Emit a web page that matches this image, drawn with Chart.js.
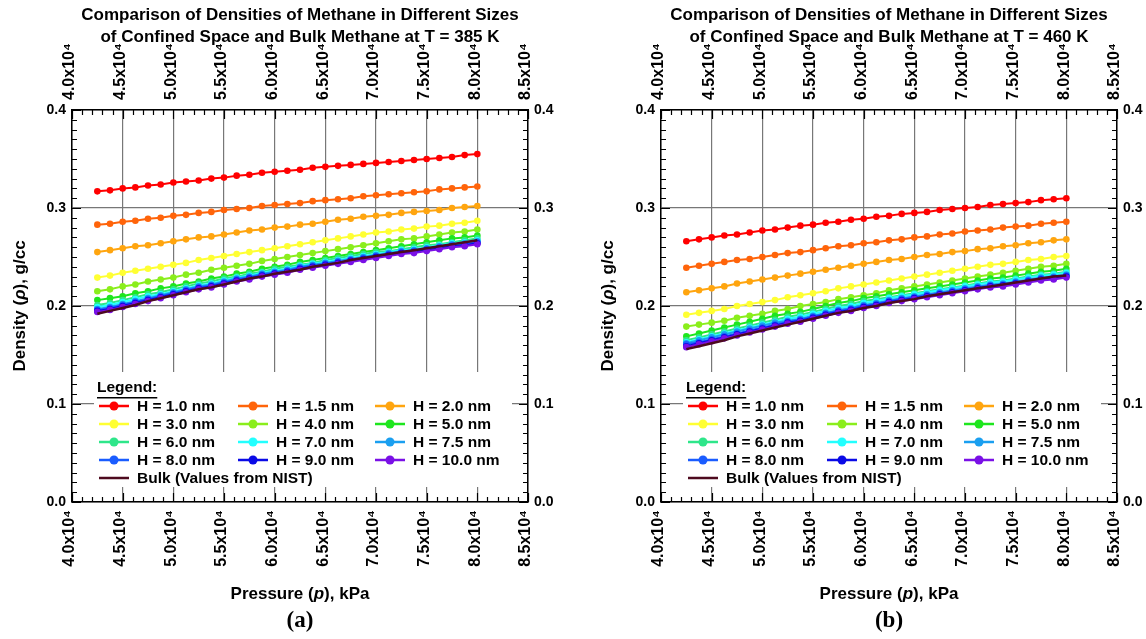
<!DOCTYPE html>
<html>
<head>
<meta charset="utf-8">
<script src="https://cdn.jsdelivr.net/npm/chart.js@4.4.1/dist/chart.umd.min.js"></script>
<style>
  html, body { margin: 0; padding: 0; background: #fff; }
  #wrap { position: relative; width: 1146px; height: 639px; }
  .panel { position: absolute; top: 0; width: 573px; height: 639px; }
</style>
</head>
<body>
<div id="wrap">
  <div class="panel" style="left:0"><canvas id="chartA" width="573" height="639"></canvas></div>
  <div class="panel" style="left:573px"><canvas id="chartB" width="573" height="639"></canvas></div>
</div>
<script>
// ---- data ----
const pressureKPa = [42500, 43750, 45000, 46250, 47500, 48750, 50000, 51250, 52500, 53750,
  55000, 56250, 57500, 58750, 60000, 61250, 62500, 63750, 65000, 66250,
  67500, 68750, 70000, 71250, 72500, 73750, 75000, 76250, 77500, 78750, 80000];

const poreLabels = ['H = 1.0 nm', 'H = 1.5 nm', 'H = 2.0 nm', 'H = 3.0 nm', 'H = 4.0 nm', 'H = 5.0 nm',
  'H = 6.0 nm', 'H = 7.0 nm', 'H = 7.5 nm', 'H = 8.0 nm', 'H = 9.0 nm', 'H = 10.0 nm'];
const poreColors = ['#ff0000', '#ff640a', '#ffa50f', '#ffff33', '#8aee1c', '#1ee61e',
  '#2ee68a', '#22ffff', '#1a9ff0', '#1a5cff', '#0a0ae6', '#7a10e6'];
const bulkLabel = 'Bulk (Values from NIST)';
const bulkColor = '#4d0a1f';

const xTickValues = [40000, 45000, 50000, 55000, 60000, 65000, 70000, 75000, 80000, 85000];
const yTickValues = [0.0, 0.1, 0.2, 0.3, 0.4];

// T = 385 K
const d385_H10 = [0.317, 0.318, 0.320, 0.321, 0.323, 0.324, 0.326, 0.327, 0.328, 0.330, 0.331, 0.333, 0.334, 0.336, 0.337, 0.338, 0.339, 0.341, 0.342, 0.343, 0.344, 0.345, 0.346, 0.347, 0.348, 0.349, 0.350, 0.351, 0.352, 0.354, 0.355];
const d385_H15 = [0.283, 0.284, 0.286, 0.287, 0.289, 0.290, 0.292, 0.293, 0.295, 0.296, 0.298, 0.299, 0.300, 0.302, 0.303, 0.304, 0.305, 0.307, 0.308, 0.309, 0.310, 0.312, 0.313, 0.314, 0.315, 0.316, 0.317, 0.319, 0.320, 0.321, 0.322];
const d385_H20 = [0.255, 0.257, 0.259, 0.261, 0.262, 0.264, 0.266, 0.268, 0.270, 0.271, 0.273, 0.275, 0.277, 0.278, 0.280, 0.281, 0.283, 0.284, 0.286, 0.288, 0.289, 0.291, 0.292, 0.293, 0.295, 0.296, 0.297, 0.298, 0.300, 0.301, 0.302];
const d385_H30 = [0.229, 0.231, 0.234, 0.236, 0.238, 0.240, 0.242, 0.244, 0.247, 0.249, 0.251, 0.253, 0.255, 0.257, 0.259, 0.261, 0.263, 0.265, 0.267, 0.269, 0.271, 0.273, 0.275, 0.276, 0.278, 0.279, 0.281, 0.282, 0.284, 0.285, 0.287];
const d385_H40 = [0.215, 0.217, 0.220, 0.222, 0.225, 0.227, 0.229, 0.232, 0.234, 0.237, 0.239, 0.241, 0.243, 0.246, 0.248, 0.250, 0.252, 0.254, 0.256, 0.258, 0.260, 0.262, 0.264, 0.266, 0.268, 0.269, 0.271, 0.273, 0.275, 0.276, 0.278];
const d385_H50 = [0.206, 0.208, 0.210, 0.213, 0.215, 0.218, 0.220, 0.223, 0.225, 0.228, 0.230, 0.233, 0.235, 0.238, 0.240, 0.242, 0.245, 0.247, 0.249, 0.251, 0.253, 0.255, 0.257, 0.259, 0.261, 0.263, 0.265, 0.267, 0.269, 0.270, 0.272];
const d385_H60 = [0.201, 0.203, 0.206, 0.209, 0.212, 0.214, 0.217, 0.220, 0.223, 0.225, 0.228, 0.230, 0.233, 0.235, 0.238, 0.240, 0.242, 0.244, 0.247, 0.249, 0.251, 0.253, 0.255, 0.256, 0.258, 0.260, 0.262, 0.263, 0.265, 0.267, 0.269];
const d385_H70 = [0.199, 0.201, 0.204, 0.207, 0.210, 0.212, 0.215, 0.218, 0.221, 0.223, 0.226, 0.229, 0.231, 0.234, 0.236, 0.238, 0.241, 0.243, 0.245, 0.247, 0.249, 0.251, 0.253, 0.255, 0.257, 0.258, 0.260, 0.262, 0.264, 0.265, 0.267];
const d385_H75 = [0.197, 0.199, 0.202, 0.205, 0.208, 0.211, 0.214, 0.217, 0.220, 0.222, 0.225, 0.228, 0.230, 0.233, 0.235, 0.237, 0.240, 0.242, 0.244, 0.246, 0.248, 0.250, 0.252, 0.254, 0.256, 0.257, 0.259, 0.261, 0.263, 0.264, 0.266];
const d385_H80 = [0.196, 0.198, 0.201, 0.204, 0.207, 0.210, 0.213, 0.216, 0.219, 0.221, 0.224, 0.227, 0.229, 0.232, 0.234, 0.236, 0.239, 0.241, 0.243, 0.245, 0.247, 0.249, 0.251, 0.253, 0.255, 0.256, 0.258, 0.260, 0.262, 0.263, 0.265];
const d385_H90 = [0.195, 0.197, 0.200, 0.203, 0.206, 0.209, 0.212, 0.215, 0.218, 0.220, 0.223, 0.226, 0.228, 0.231, 0.233, 0.235, 0.238, 0.240, 0.242, 0.244, 0.246, 0.248, 0.250, 0.252, 0.254, 0.255, 0.257, 0.259, 0.261, 0.262, 0.264];
const d385_H100 = [0.194, 0.196, 0.199, 0.202, 0.205, 0.208, 0.211, 0.214, 0.217, 0.219, 0.222, 0.225, 0.227, 0.230, 0.232, 0.234, 0.237, 0.239, 0.241, 0.243, 0.245, 0.247, 0.249, 0.251, 0.253, 0.254, 0.256, 0.258, 0.260, 0.261, 0.263];
const d385_bulk = [0.192, 0.195, 0.198, 0.201, 0.205, 0.208, 0.211, 0.214, 0.217, 0.219, 0.222, 0.225, 0.228, 0.230, 0.233, 0.235, 0.237, 0.240, 0.242, 0.244, 0.247, 0.249, 0.251, 0.253, 0.255, 0.257, 0.259, 0.261, 0.263, 0.265, 0.267];

// T = 460 K
const d460_H10 = [0.266, 0.268, 0.270, 0.272, 0.273, 0.275, 0.277, 0.278, 0.280, 0.282, 0.283, 0.285, 0.286, 0.288, 0.289, 0.291, 0.292, 0.294, 0.295, 0.296, 0.298, 0.299, 0.300, 0.301, 0.303, 0.304, 0.305, 0.306, 0.308, 0.309, 0.310];
const d460_H15 = [0.239, 0.241, 0.243, 0.245, 0.247, 0.248, 0.250, 0.252, 0.254, 0.255, 0.257, 0.259, 0.261, 0.262, 0.264, 0.265, 0.267, 0.268, 0.270, 0.271, 0.273, 0.274, 0.276, 0.277, 0.278, 0.280, 0.281, 0.282, 0.284, 0.285, 0.286];
const d460_H20 = [0.214, 0.216, 0.218, 0.220, 0.223, 0.225, 0.227, 0.229, 0.231, 0.233, 0.235, 0.237, 0.239, 0.241, 0.243, 0.245, 0.247, 0.248, 0.250, 0.252, 0.253, 0.255, 0.256, 0.258, 0.259, 0.261, 0.262, 0.264, 0.265, 0.267, 0.268];
const d460_H30 = [0.191, 0.193, 0.195, 0.197, 0.200, 0.202, 0.204, 0.206, 0.209, 0.211, 0.213, 0.215, 0.218, 0.220, 0.222, 0.224, 0.226, 0.228, 0.230, 0.232, 0.234, 0.236, 0.238, 0.240, 0.242, 0.243, 0.245, 0.247, 0.248, 0.250, 0.251];
const d460_H40 = [0.179, 0.181, 0.183, 0.185, 0.188, 0.190, 0.192, 0.195, 0.197, 0.200, 0.202, 0.204, 0.207, 0.209, 0.211, 0.213, 0.216, 0.218, 0.220, 0.222, 0.224, 0.226, 0.228, 0.230, 0.232, 0.234, 0.236, 0.238, 0.240, 0.241, 0.243];
const d460_H50 = [0.169, 0.172, 0.175, 0.178, 0.181, 0.184, 0.187, 0.190, 0.192, 0.194, 0.197, 0.200, 0.203, 0.205, 0.208, 0.210, 0.212, 0.214, 0.216, 0.218, 0.220, 0.222, 0.224, 0.226, 0.228, 0.229, 0.231, 0.233, 0.235, 0.236, 0.238];
const d460_H60 = [0.165, 0.168, 0.171, 0.174, 0.177, 0.180, 0.183, 0.186, 0.189, 0.191, 0.194, 0.197, 0.200, 0.202, 0.205, 0.207, 0.209, 0.211, 0.213, 0.215, 0.217, 0.219, 0.221, 0.223, 0.225, 0.226, 0.228, 0.230, 0.232, 0.233, 0.235];
const d460_H70 = [0.163, 0.166, 0.169, 0.172, 0.175, 0.178, 0.181, 0.184, 0.187, 0.189, 0.192, 0.195, 0.198, 0.200, 0.203, 0.205, 0.208, 0.210, 0.212, 0.214, 0.216, 0.218, 0.220, 0.222, 0.224, 0.225, 0.227, 0.229, 0.231, 0.232, 0.234];
const d460_H75 = [0.162, 0.165, 0.168, 0.171, 0.174, 0.177, 0.180, 0.183, 0.185, 0.187, 0.190, 0.193, 0.196, 0.198, 0.201, 0.203, 0.206, 0.208, 0.210, 0.212, 0.214, 0.216, 0.218, 0.220, 0.222, 0.223, 0.225, 0.227, 0.229, 0.230, 0.232];
const d460_H80 = [0.161, 0.163, 0.166, 0.169, 0.172, 0.175, 0.178, 0.181, 0.184, 0.186, 0.189, 0.192, 0.195, 0.197, 0.200, 0.202, 0.205, 0.207, 0.209, 0.211, 0.213, 0.215, 0.217, 0.219, 0.221, 0.222, 0.224, 0.226, 0.228, 0.229, 0.231];
const d460_H90 = [0.159, 0.162, 0.165, 0.168, 0.171, 0.174, 0.177, 0.180, 0.183, 0.185, 0.188, 0.191, 0.194, 0.196, 0.199, 0.201, 0.204, 0.206, 0.208, 0.210, 0.212, 0.214, 0.216, 0.218, 0.220, 0.221, 0.223, 0.225, 0.227, 0.228, 0.230];
const d460_H100 = [0.158, 0.161, 0.164, 0.167, 0.170, 0.173, 0.176, 0.179, 0.182, 0.184, 0.187, 0.190, 0.193, 0.195, 0.198, 0.200, 0.203, 0.205, 0.207, 0.209, 0.211, 0.213, 0.215, 0.217, 0.219, 0.220, 0.222, 0.224, 0.226, 0.227, 0.229];
const d460_bulk = [0.156, 0.159, 0.162, 0.165, 0.169, 0.172, 0.175, 0.178, 0.181, 0.184, 0.187, 0.190, 0.193, 0.195, 0.198, 0.200, 0.203, 0.205, 0.207, 0.210, 0.212, 0.214, 0.216, 0.218, 0.220, 0.222, 0.224, 0.226, 0.228, 0.230, 0.231];

const series385 = [d385_H10, d385_H15, d385_H20, d385_H30, d385_H40, d385_H50, d385_H60, d385_H70, d385_H75, d385_H80, d385_H90, d385_H100];
const series460 = [d460_H10, d460_H15, d460_H20, d460_H30, d460_H40, d460_H50, d460_H60, d460_H70, d460_H75, d460_H80, d460_H90, d460_H100];

// ---- drawing helpers ----
const FONT = '"Liberation Sans", Arial, Helvetica, sans-serif';
const SERIF = '"Liberation Serif", "Times New Roman", serif';

// draw text made of plain / italic pieces, centred on (x, y)
function drawMixed(ctx, parts, x, y, size) {
  const fontOf = (it) => (it ? 'italic ' : '') + 'bold ' + size + 'px ' + FONT;
  let total = 0;
  parts.forEach(p => { ctx.font = fontOf(p[1]); total += ctx.measureText(p[0]).width; });
  let cx = x - total / 2;
  ctx.textAlign = 'left';
  parts.forEach(p => {
    ctx.font = fontOf(p[1]);
    ctx.fillText(p[0], cx, y);
    cx += ctx.measureText(p[0]).width;
  });
}

const frame = {
  id: 'frame',
  beforeDatasetsDraw(chart) {
    // white legend panel that hides the grid behind it
    const { ctx, chartArea: ca } = chart;
    ctx.save();
    ctx.fillStyle = '#fff';
    ctx.fillRect(ca.left + 22, ca.top + 262, 418, 115);
    ctx.restore();
  },
  afterDatasetsDraw(chart, args, opts) {
    const { ctx, chartArea: ca, scales } = chart;
    ctx.save();
    // inward minor / major ticks
    ctx.strokeStyle = '#000';
    ctx.lineWidth = 1.2;
    ctx.beginPath();
    for (let v = 40000; v <= 85000; v += 1000) {
      const x = Math.round(scales.x.getPixelForValue(v)) + 0.5;
      const len = v % 5000 === 0 ? 9 : 5;
      ctx.moveTo(x, ca.bottom); ctx.lineTo(x, ca.bottom - len);
      ctx.moveTo(x, ca.top); ctx.lineTo(x, ca.top + len);
    }
    for (let k = 0; k <= 40; k++) {
      const y = Math.round(scales.y.getPixelForValue(k / 100)) + 0.5;
      const len = k % 10 === 0 ? 9 : 5;
      ctx.moveTo(ca.left, y); ctx.lineTo(ca.left + len, y);
      ctx.moveTo(ca.right, y); ctx.lineTo(ca.right - len, y);
    }
    ctx.stroke();

    // legend
    const x0 = ca.left, y0 = ca.top;
    ctx.fillStyle = '#000';
    ctx.textBaseline = 'middle';
    ctx.textAlign = 'left';
    ctx.font = 'bold 15.5px ' + FONT;
    ctx.fillText('Legend:', x0 + 25, y0 + 278);
    ctx.fillRect(x0 + 25, y0 + 287, ctx.measureText('Legend:').width, 1.5);
    const colX = [27, 166, 303];
    poreLabels.forEach((lab, i) => {
      const lx = x0 + colX[i % 3], ly = y0 + 296 + Math.floor(i / 3) * 18;
      ctx.strokeStyle = poreColors[i];
      ctx.lineWidth = 2.5;
      ctx.beginPath(); ctx.moveTo(lx, ly); ctx.lineTo(lx + 30, ly); ctx.stroke();
      ctx.fillStyle = poreColors[i];
      ctx.beginPath(); ctx.arc(lx + 15, ly, 4.5, 0, Math.PI * 2); ctx.fill();
      ctx.fillStyle = '#000';
      ctx.fillText(lab, lx + 38, ly + 1);
    });
    const by = y0 + 368;
    ctx.strokeStyle = bulkColor;
    ctx.lineWidth = 2.5;
    ctx.beginPath(); ctx.moveTo(x0 + colX[0], by); ctx.lineTo(x0 + colX[0] + 30, by); ctx.stroke();
    ctx.fillText(bulkLabel, x0 + colX[0] + 38, by + 1);
    ctx.restore();
  },
  afterDraw(chart, args, opts) {
    const { ctx, chartArea: ca } = chart;
    const cx = (ca.left + ca.right) / 2;
    ctx.save();
    ctx.fillStyle = '#000';
    ctx.textBaseline = 'middle';
    ctx.textAlign = 'center';
    ctx.font = 'bold 17px ' + FONT;
    ctx.fillText(opts.title[0], cx, 15);
    ctx.fillText(opts.title[1], cx, 37);
    drawMixed(ctx, [['Pressure (', false], ['p', true], ['), kPa', false]], cx, 594, 17);
    ctx.textAlign = 'center';
    ctx.font = 'bold 23px ' + SERIF;
    ctx.fillText(opts.panel, cx, 621);
    ctx.translate(opts.yTitleX, (ca.top + ca.bottom) / 2);
    ctx.rotate(-Math.PI / 2);
    drawMixed(ctx, [['Density (', false], ['\u03c1', true], ['), g/cc', false]], 0, 0, 17);
    ctx.restore();
  }
};

function makeChart(id, series, bulk, title, panel, leftW, rightW, yTitleX) {
  const datasets = series.map((vals, i) => ({
    label: poreLabels[i],
    data: vals.map((v, j) => ({ x: pressureKPa[j], y: v })),
    borderColor: poreColors[i],
    backgroundColor: poreColors[i],
    borderWidth: 2,
    pointRadius: 3.3,
    pointBorderWidth: 0,
    pointBackgroundColor: poreColors[i],
    order: 20 - i
  }));
  datasets.push({
    label: bulkLabel,
    data: bulk.map((v, j) => ({ x: pressureKPa[j], y: v })),
    borderColor: bulkColor,
    borderWidth: 2.5,
    pointRadius: 0,
    order: 0
  });

  const tickFont = { family: FONT, size: 16, weight: 'bold' };
  const xTickCommon = {
    color: '#000',
    font: tickFont,
    autoSkip: false,
    minRotation: 90,
    maxRotation: 90,
    callback: v => (v / 10000).toFixed(1) + 'x10\u2074'
  };
  const yTicks = {
    color: '#000',
    font: { family: FONT, size: 14, weight: 'bold' },
    padding: 6,
    callback: v => v.toFixed(1)
  };
  const border = { display: true, color: '#000', width: 1.5 };

  return new Chart(document.getElementById(id), {
    type: 'line',
    data: { datasets },
    options: {
      responsive: false,
      animation: false,
      layout: { padding: 0 },
      plugins: {
        legend: { display: false },
        tooltip: { enabled: false },
        frame: { title, panel, yTitleX }
      },
      scales: {
        x: {
          type: 'linear', position: 'bottom',
          min: xTickValues[0], max: xTickValues[xTickValues.length - 1],
          afterBuildTicks: s => { s.ticks = xTickValues.map(v => ({ value: v })); },
          grid: { color: '#777', lineWidth: 1.2, drawTicks: false },
          border, ticks: { ...xTickCommon, padding: 8, labelOffset: -2 },
          afterFit: s => { s.height = 137; }
        },
        x2: {
          type: 'linear', position: 'top',
          min: xTickValues[0], max: xTickValues[xTickValues.length - 1],
          afterBuildTicks: s => { s.ticks = xTickValues.map(v => ({ value: v })); },
          grid: { display: false, drawTicks: false },
          border, ticks: { ...xTickCommon, padding: 10, labelOffset: 17 },
          afterFit: s => { s.height = 110; }
        },
        y: {
          type: 'linear', position: 'left',
          min: yTickValues[0], max: yTickValues[yTickValues.length - 1],
          afterBuildTicks: s => { s.ticks = yTickValues.map(v => ({ value: v })); },
          grid: { color: '#777', lineWidth: 1.2, drawTicks: false },
          border, ticks: yTicks,
          afterFit: s => { s.width = leftW; }
        },
        y2: {
          type: 'linear', position: 'right',
          min: yTickValues[0], max: yTickValues[yTickValues.length - 1],
          afterBuildTicks: s => { s.ticks = yTickValues.map(v => ({ value: v })); },
          grid: { display: false, drawTicks: false },
          border, ticks: yTicks,
          afterFit: s => { s.width = rightW; }
        }
      }
    },
    plugins: [frame]
  });
}

makeChart('chartA', series385, d385_bulk,
  ['Comparison of Densities of Methane in Different Sizes', 'of Confined Space and Bulk Methane at T = 385 K'],
  '(a)', 72, 45, 20);
makeChart('chartB', series460, d460_bulk,
  ['Comparison of Densities of Methane in Different Sizes', 'of Confined Space and Bulk Methane at T = 460 K'],
  '(b)', 88, 29, 35);
</script>
</body>
</html>
